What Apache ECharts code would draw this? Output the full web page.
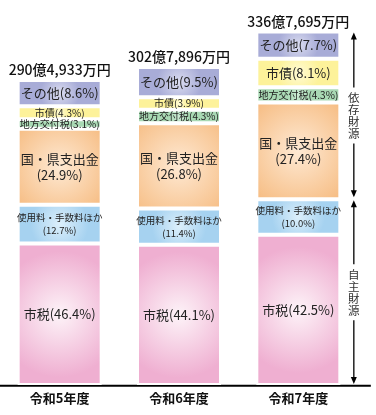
<!DOCTYPE html>
<html><head><meta charset="utf-8">
<script src="https://cdn.jsdelivr.net/npm/echarts@6.0.0/dist/echarts.min.js"></script>
<style>html,body{margin:0;padding:0;background:#fff}#c{width:376px;height:415px}</style>
</head><body><div id="c"></div>
<script>
// ---- data ----
const categories = ['令和5年度', '令和6年度', '令和7年度'];
const totalsMan = [2904933, 3027896, 3367695]; // 万円
const shizeiPct = [46.4, 44.1, 42.5];      // 市税
const shiyouPct = [12.7, 11.4, 10.0];      // 使用料・手数料ほか
const kokukenPct = [24.9, 26.8, 27.4];     // 国・県支出金
const chihouPct = [3.1, 4.3, 4.3];         // 地方交付税
const shisaiPct = [4.3, 3.9, 8.1];         // 市債
const sonotaPct = [8.6, 9.5, 7.7];         // その他
const groupLabels = ['依存財源', '自主財源'];

// ---- build ----
const FONT = "'Liberation Sans Narrow','Noto Sans CJK JP',sans-serif";
const totalsOku = totalsMan.map(v => v / 10000);
function fmtTotal(v) {
  const oku = Math.floor(v / 10000), man = v % 10000;
  const m = String(man).replace(/\B(?=(\d{3})+(?!\d))/g, ',');
  return oku + '億' + m + '万円';
}
function grad(c0, c1) {
  return { type: 'radial', x: 0.5, y: 0.5, r: 0.75,
    colorStops: [{ offset: 0, color: c0 }, { offset: 1, color: c1 }] };
}
const segs = [
  { name: '市税', pct: shizeiPct, c0: '#fdf3f8', c1: '#efafd1', big: 13, fmt: (n, p) => n + '(' + p + '%)' },
  { name: '使用料・手数料ほか', pct: shiyouPct, c0: '#dcefFb', c1: '#a6d2f0', big: 9.5, lh: 13, fmt: (n, p) => n + '\n(' + p + '%)' },
  { name: '国・県支出金', pct: kokukenPct, c0: '#fee9d3', c1: '#f6bc82', big: 13, lh: 16, fmt: (n, p) => n + '\n(' + p + '%)' },
  { name: '地方交付税', pct: chihouPct, c0: '#cdebd5', c1: '#a9d9b4', big: 13, fmt: (n, p) => n + '(' + p + '%)' },
  { name: '市債', pct: shisaiPct, c0: '#fffbd4', c1: '#fdf29a', big: 13, fmt: (n, p) => n + '(' + p + '%)' },
  { name: 'その他', pct: sonotaPct, c0: '#dadcf0', c1: '#a8acd7', big: 13, fmt: (n, p) => n + '(' + p + '%)' }
];
const BW = 84;
const series = segs.map(s => ({
  name: s.name, type: 'bar', stack: 'a', barWidth: BW,
  itemStyle: { color: grad(s.c0, s.c1), borderColor: '#fff', borderWidth: 2 },
  data: s.pct.map((p, i) => {
    const small = p < 5;
    return {
      value: totalsOku[i] * p / 100,
      label: { fontSize: small ? 10 : s.big, lineHeight: small ? 11 : (s.lh || 15) }
    };
  }),
  label: {
    show: true, position: 'inside', color: '#222', fontFamily: FONT,
    formatter: prm => s.fmt(s.name, s.pct[prm.dataIndex].toFixed(1))
  }
}));
series.push({
  name: 'total', type: 'bar', stack: 'a', barWidth: BW,
  itemStyle: { color: 'rgba(0,0,0,0)' },
  data: totalsOku.map(() => 0),
  label: { show: true, position: 'top', distance: 3, color: '#111', fontSize: 14, fontWeight: 500,
    fontFamily: FONT, formatter: prm => fmtTotal(totalsMan[prm.dataIndex]) }
});

const chart = echarts.init(document.getElementById('c'), null, { renderer: 'canvas' });
chart.setOption({
  animation: false,
  textStyle: { fontFamily: FONT },
  grid: { left: 0, right: 18, top: 0, bottom: 30, containLabel: false },
  xAxis: { type: 'category', data: categories, axisLine: { show: false }, axisTick: { show: false },
    axisLabel: { fontSize: 13, fontWeight: 'bold', color: '#111', margin: 7, fontFamily: FONT } },
  yAxis: { type: 'value', min: 0, max: 366.7, show: false, splitLine: { show: false } },
  series: series
});

// ---- annotations ----
const last = categories.length - 1;
const xc = chart.convertToPixel({ xAxisIndex: 0 }, categories[last]) + 55.5;
const y0 = chart.convertToPixel({ yAxisIndex: 0 }, 0);
const yTop = chart.convertToPixel({ yAxisIndex: 0 }, totalsOku[last]);
const jVal = totalsOku[last] * (shizeiPct[last] + shiyouPct[last]) / 100;
const yJ = chart.convertToPixel({ yAxisIndex: 0 }, jVal);
const g = [];
g.push({ type: 'line', shape: { x1: 0, y1: y0 + 0.7, x2: xc + 17, y2: y0 + 0.7 }, style: { stroke: '#000', lineWidth: 2 } });
function arrowHead(tipY, dir) {
  return { type: 'polygon', shape: { points: [[xc, tipY], [xc - 3, tipY - dir * 7], [xc + 3, tipY - dir * 7]] }, style: { fill: '#000' } };
}
function span(a, b, label) {
  const mid = (a + b) / 2, half = 28;
  g.push({ type: 'line', shape: { x1: xc, y1: a + 3, x2: xc, y2: mid - half }, style: { stroke: '#000', lineWidth: 1.3 } });
  g.push({ type: 'line', shape: { x1: xc, y1: mid + half, x2: xc, y2: b - 3 }, style: { stroke: '#000', lineWidth: 1.3 } });
  g.push({ type: 'text', x: xc, y: mid, style: { text: label.split('').join('\n'), fontSize: 11.5, lineHeight: 12,
    fill: '#333', align: 'center', verticalAlign: 'middle', fontFamily: "'Noto Sans CJK JP',sans-serif" } });
}
span(yTop + 1, yJ - 1, groupLabels[0]);
g.push(arrowHead(yTop + 1, -1));
g.push(arrowHead(yJ - 2, 1));
span(yJ + 1, y0 - 1, groupLabels[1]);
g.push(arrowHead(yJ + 1, -1));
g.push(arrowHead(y0 - 1, 1));
chart.setOption({ graphic: g });
</script>
</body></html>
